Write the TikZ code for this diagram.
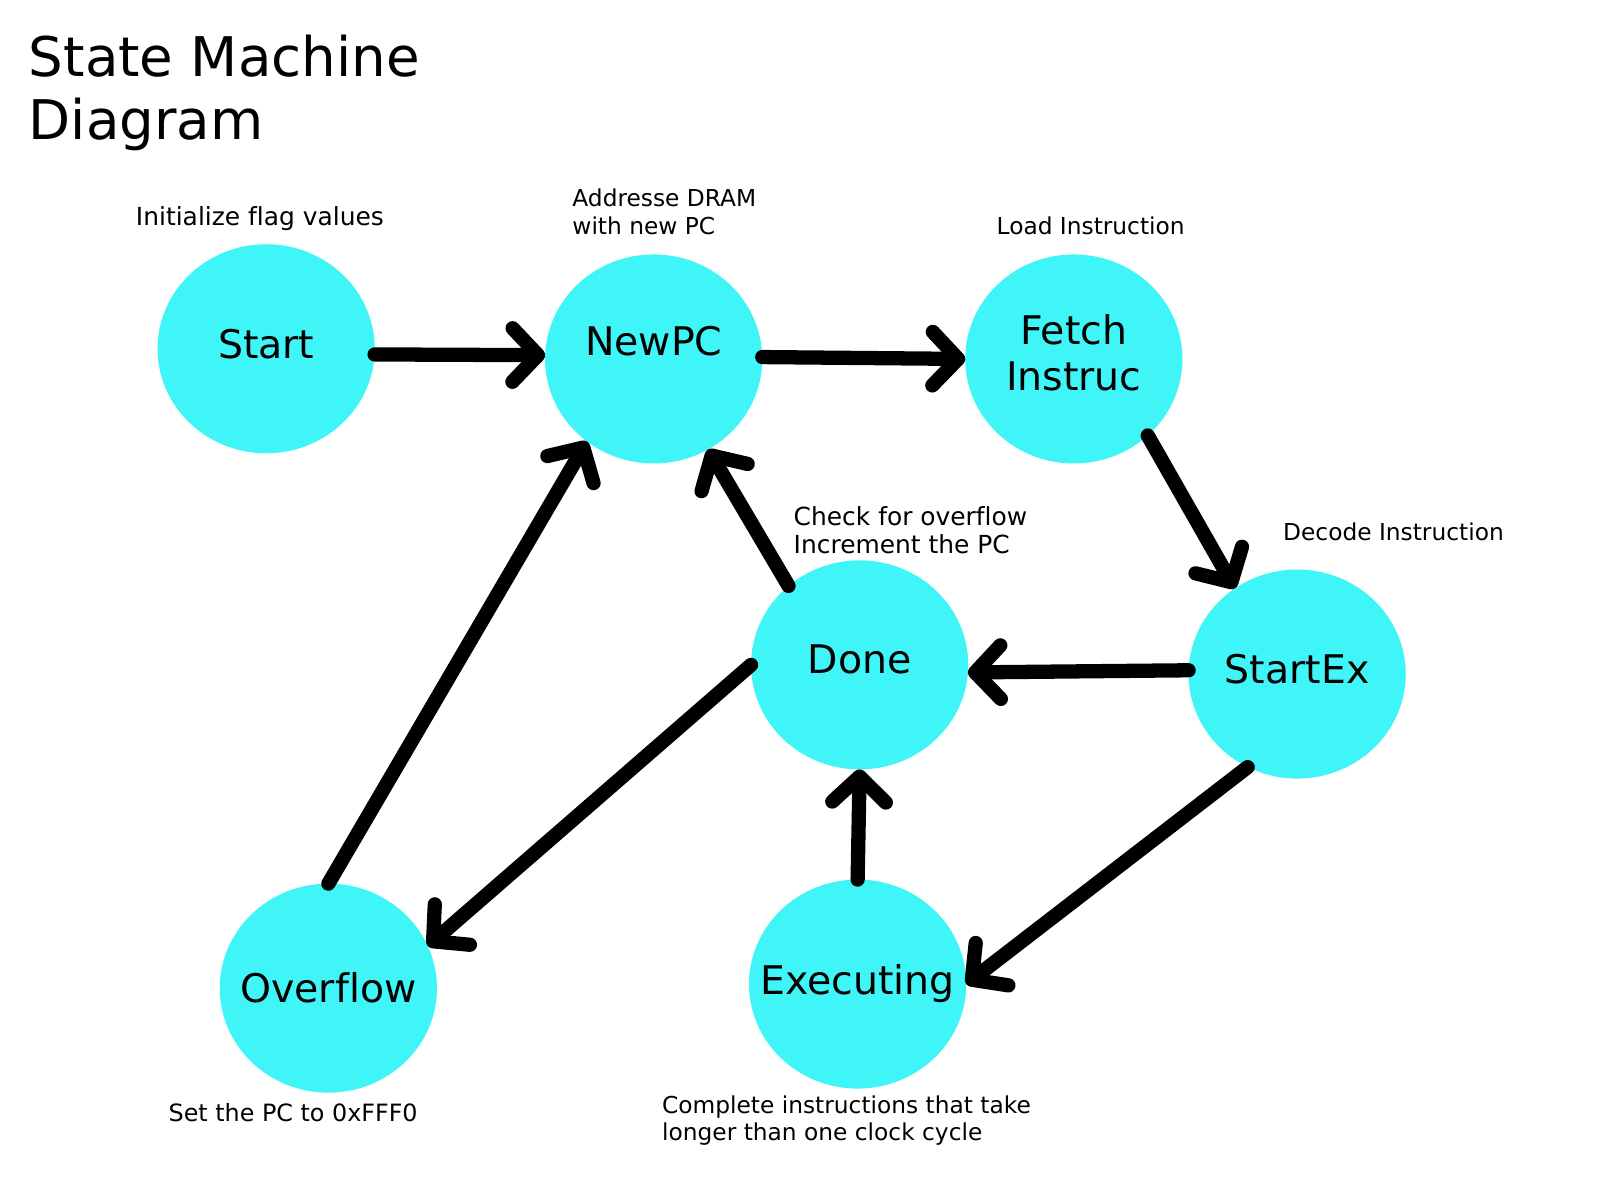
\documentclass[tikz,border=0pt]{standalone}
\usepackage{fontspec}
\setmainfont{DejaVu Sans}[Ligatures=CommonOff]
\usetikzlibrary{shapes.geometric,arrows.meta}
\definecolor{statecyan}{RGB}{64,245,247}

\begin{document}
\begin{tikzpicture}[
    state/.style ={ellipse, fill=statecyan, minimum width=4.26cm, minimum height=4.1cm,
                   inner xsep=-0.6cm, inner ysep=0pt, outer sep=0pt, align=center,
                   font=\fontsize{22}{25.6}\selectfont},
    note/.style ={anchor=north west, inner sep=0pt, align=left, font=\fontsize{13}{15.4}\selectfont},
    bignote/.style ={note, font=\fontsize{13.9}{15.9}\selectfont},
    transition/.style ={line width=0.28cm, line cap=round,
                   -{Straight Barb[length=0.5cm, width=1.05cm, round]}}]
   \useasboundingbox (0,0) rectangle (31.38,-23.53);

   \node[anchor=north west, inner sep=0pt, align=left, font=\fontsize{30.5}{35.3}\selectfont]
        (title) at (0.56,-0.68) {State Machine\\Diagram};

   \node[state, text depth=0.2cm]  (Start)     at (5.22,-6.84)   {Start};
   \node[state, text depth=0.72cm] (NewPC)     at (12.82,-7.04)  {NewPC};
   \node[state, text depth=0.26cm] (Fetch)     at (21.06,-7.04)  {Fetch\\Instruc};
   \node[state, text depth=0.2cm]  (StartEx)   at (25.44,-13.22) {StartEx};
   \node[state, text depth=0.24cm] (Done)      at (16.86,-13.04) {Done};
   \node[state]                    (Overflow)  at (6.44,-19.38)  {Overflow};
   \node[state]                    (Executing) at (16.82,-19.30) {Executing};

   \node[bignote] (startnote)    at (2.66,-4.04)   {Initialize flag values};
   \node[note] (newpcnote)       at (11.22,-3.70)  {Addresse DRAM\\with new PC};
   \node[note] (fetchnote)       at (19.54,-4.24)  {Load Instruction};
   \node[note] (startexnote)     at (25.16,-10.24) {Decode Instruction};
   \node[bignote] (donenote)     at (15.56,-9.92)  {Check for overflow\\Increment the PC};
   \node[note, font=\fontsize{13.3}{15.4}\selectfont]
                  (overflownote) at (3.30,-21.64)  {Set the PC to 0xFFF0};
   \node[note] (execnote)        at (12.98,-21.48) {Complete instructions that take\\longer than one clock cycle};

   \draw[transition] (Start.-3)      to (NewPC.178);
   \draw[transition] (NewPC.1.5)     to (Fetch.180);
   \draw[transition] (Fetch.-46)     to (StartEx.126);
   \draw[transition] (StartEx.178.5) to (Done.-4);
   \draw[transition] (Done.132)      to (NewPC.-59);
   \draw[transition] (Done.180)      to (Overflow.23.5);
   \draw[transition] (Executing.90)  to (Done.-90);
   \draw[transition] (StartEx.-118.5) to (Executing.0);
   \draw[transition] (Overflow.90)   to (NewPC.-129);
 \end{tikzpicture}
\end{document}
